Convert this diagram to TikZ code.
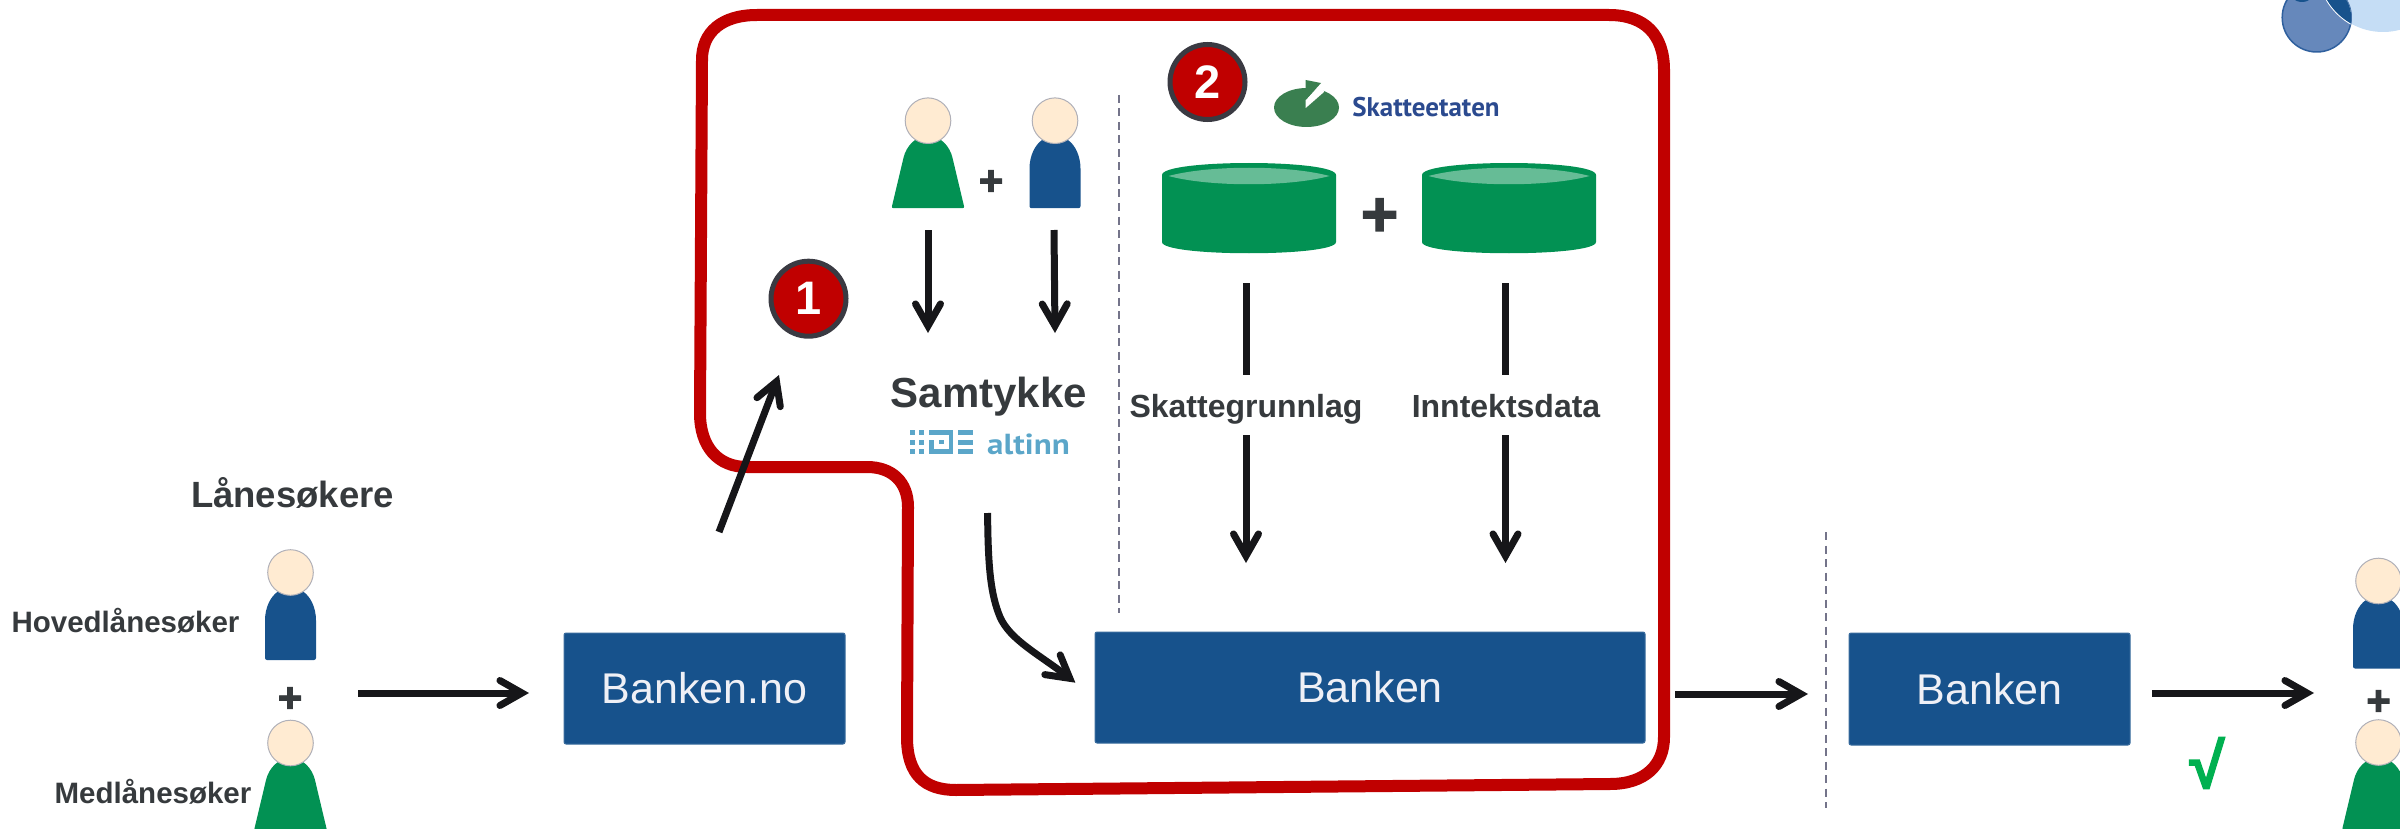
\documentclass[tikz,border=0pt]{standalone}
\usepackage{fontspec}
\setmainfont{Liberation Sans}
\newfontfamily\ptsans{PT Sans}
\newfontfamily\heavy{Liberation Sans}[BoldFeatures={FakeBold=2.2}]
\usetikzlibrary{arrows.meta}
\definecolor{redc}{HTML}{C00000}
\definecolor{bluec}{HTML}{17528C}
\definecolor{greenc}{HTML}{029153}
\definecolor{lightgreen}{HTML}{66BC96}
\definecolor{inkc}{HTML}{161619}
\definecolor{textc}{HTML}{363A3D}
\definecolor{headc}{HTML}{FFEBD2}
\definecolor{headline}{HTML}{B0B0B8}
\definecolor{dashc}{HTML}{74748A}
\definecolor{ringc}{HTML}{3A3A42}
\definecolor{logoc}{HTML}{3A7F50}
\definecolor{logotext}{HTML}{2B4A8F}
\definecolor{altc}{HTML}{5BA6C9}
\definecolor{boxtext}{HTML}{EFF0F6}
\definecolor{checkc}{HTML}{00B050}
\definecolor{paleblue}{HTML}{C5DDF5}
\definecolor{midblue}{HTML}{6688BB}
\definecolor{midline}{HTML}{2F609E}
\newcommand{\fsz}[1]{\fontsize{\fpeval{#1*0.5}pt}{\fpeval{#1*0.6}pt}\selectfont}
\tikzset{
  x=0.5pt,y=-0.5pt,
  arrowline/.style={draw=inkc,line width=3.5pt,-{Straight Barb[length=11pt,width=12.5pt,line cap=round,line join=miter]}},
  plainline/.style={draw=inkc,line width=3.5pt},
  sep/.style={draw=dashc,line width=1pt,dash pattern=on 4pt off 2.75pt},
  bankbox/.style={fill=bluec,draw=bluec!85!white,line width=0.5pt,rounded corners=1pt,inner sep=0pt,text=boxtext,font=\fsz{43}},
  lbl/.style={anchor=base,inner sep=0pt,text=textc,font=\bfseries\fsz{#1}},
  plusmark/.style={anchor=base,inner sep=0pt,text=textc,font=\heavy\bfseries\fsz{#1}},
  badge/.style={circle,fill=redc,draw=ringc,line width=2.5pt,minimum size=37.5pt,inner sep=0pt,text=white,font=\bfseries\fsz{47}},
  bluep/.pic={
    \fill[bluec,rounded corners=1pt] (-25.5,87.5) -- (-25.5,50) -- (-25.5,50) .. controls (-25.5,35) and (-20,24) .. (-11,18) -- (11,18) .. controls (20,24) and (25.5,35) .. (25.5,50) -- (25.5,87.5) -- cycle;
    \draw[headline,fill=headc,line width=0.5pt] (0,0) circle[radius=22.8];
  },
  greenp/.pic={
    \fill[greenc,rounded corners=1pt] (-36.5,87.5) -- (-24,35) .. controls (-21,27) and (-17,22) .. (-11,18) -- (11,18) .. controls (17,22) and (21,27) .. (24,35) -- (36.5,87.5) -- cycle;
    \draw[headline,fill=headc,line width=0.5pt] (0,0) circle[radius=22.8];
  },
  cyl/.pic={
    \fill[greenc] (-87,12) .. controls (-87,-4) and (87,-4) .. (87,12) -- (87,79) .. controls (87,94) and (-87,94) .. (-87,79) -- cycle;
    \fill[lightgreen] (-80.5,13) .. controls (-40,2) and (40,2) .. (80.5,13) .. controls (40,24) and (-40,24) .. (-80.5,13) -- cycle;
  }
}
\begin{document}
\begin{tikzpicture}
\useasboundingbox (0,0) rectangle (2400,829);
\clip (0,0) rectangle (2400,829);
% top-right circles
\fill[paleblue] (2383,-33) circle[radius=65];
\draw[midline,fill=midblue,line width=0.75pt] (2316.7,17.5) circle[radius=34.5];
\begin{scope}
  \clip (2316.7,17.5) circle[radius=34.5];
  \fill[white] (2383,-33) circle[radius=66];
  \fill[bluec] (2383,-33) circle[radius=65];
  \fill[bluec] (2302,-12) circle[radius=14];
\end{scope}
% red outline
\draw[redc,line width=6pt] (757,15) -- (1609,15) .. controls (1645,15) and (1664,35) .. (1664,70) -- (1664,737) .. controls (1664,765) and (1645,784) .. (1610,784) -- (956,790) .. controls (925,790) and (907,775) .. (907,737) -- (908,507) .. controls (908,482) and (892,467) .. (867,467) -- (747,467) .. controls (718,467) and (700,447) .. (700,413) -- (702,60) .. controls (702,32) and (722,15) .. (757,15) -- cycle;
% separators
\coordinate (s1a) at (1118.7,95); \coordinate (s1b) at (1118.7,613);
\coordinate (s2a) at (1825.7,532); \coordinate (s2b) at (1825.7,808);
\draw[sep] (s1a) -- (s1b);
\draw[sep] (s2a) -- (s2b);
% boxes
\node[bankbox,minimum width=140.5pt,minimum height=55.5pt] (bno) at (704.5,688.5) {\raisebox{-0.7pt}{Banken.no}};
\node[bankbox,minimum width=275pt,minimum height=55.5pt] (bmid) at (1370,687.5) {\raisebox{-0.7pt}{Banken}};
\node[bankbox,minimum width=140.5pt,minimum height=56pt] (bright) at (1989.5,689) {\raisebox{-0.7pt}{Banken}};
% people
\pic at (290.5,572.5) {bluep};
\pic at (290.5,743) {greenp};
\pic at (928,120.7) {greenp};
\pic at (1055,120.7) {bluep};
\pic at (2378.5,581) {bluep};
\pic at (2378.5,742.5) {greenp};
% labels
\node[lbl=36.5] (tl) at (292.5,507.5) {Lånesøkere};
\node[lbl=29.5] (th) at (125.5,632) {Hovedlånesøker};
\node[lbl=29.5] (tm) at (153,803) {Medlånesøker};
\node[lbl=42] (ts) at (989,407) {Samtykke};
\node[lbl=32] (tg) at (1246,417) {Skattegrunnlag};
\node[lbl=32] (ti) at (1506,417) {Inntektsdata};
% plus signs
\node[plusmark=42] (p1) at (290,712) {+};
\node[plusmark=42] (p2) at (991,195) {+};
\node[plusmark=64] (p3) at (1379.5,236) {+};
\node[plusmark=42] (p4) at (2378.5,715) {+};
% badges
\node[badge] (b1) at (808.5,298.7) {1};
\node[badge] (b2) at (1207.5,82) {2};
% cylinders
\pic at (1249,163) {cyl};
\pic at (1509,163) {cyl};
% Skatteetaten logo
\fill[logoc] (1306.5,107.5) ellipse[x radius=32.5,y radius=19.5];
\fill[white] (1305.7,100) -- (1321,83) -- (1324,92) -- (1305.7,108) -- cycle;
\fill[logoc] (1305.7,80) -- (1321,83) -- (1305.7,100) -- cycle;
\node[anchor=base,inner sep=0pt,text=logotext,font=\ptsans\bfseries\fsz{27}] (sk) at (1426,117) {Skatteetaten};
% altinn logo
\begin{scope}[altc]
\foreach \yy in {430,439.5,449} {
  \fill (910,\yy) rectangle ++(5,5);
  \fill (919,\yy) rectangle ++(5,5);
  \fill (957.5,\yy) rectangle ++(15.5,5);
}
\fill (929,430) rectangle (953,434.5);
\fill (948.5,430) rectangle (953,454);
\fill (929,449) rectangle (953,454);
\fill (929,439.5) rectangle (934,454);
\fill (939,439.5) rectangle (943.5,444);
\end{scope}
\node[anchor=base,inner sep=0pt,text=altc,font=\ptsans\bfseries\fsz{29}] (al) at (1028.5,454) {\scalebox{1.14}[1]{altinn}};
% check mark
\node[anchor=base,inner sep=0pt,text=checkc,font=\heavy\bfseries\fsz{64}] (ck) at (2207,788) {√};
% arrows
\coordinate (a1s) at (358,693); \coordinate (a1e) at (529,693);
\draw[arrowline] (a1s) -- (a1e);
\coordinate (a2s) at (719,532); \coordinate (a2e) at (779,375);
\draw[arrowline] (a2s) -- (a2e);
\coordinate (a3s) at (928,230); \coordinate (a3e) at (928,333);
\draw[arrowline] (a3s) -- (a3e);
\coordinate (a4s) at (1054,230); \coordinate (a4e) at (1055,333);
\draw[arrowline] (a4s) -- (a4e);
\coordinate (a5a) at (1246,283); \coordinate (a5b) at (1246,375);
\coordinate (a5c) at (1246,435); \coordinate (a5d) at (1246,563);
\draw[plainline] (a5a) -- (a5b);
\draw[arrowline] (a5c) -- (a5d);
\coordinate (a6a) at (1505.5,283); \coordinate (a6b) at (1505.5,375);
\coordinate (a6c) at (1505.5,435); \coordinate (a6d) at (1505.5,563);
\draw[plainline] (a6a) -- (a6b);
\draw[arrowline] (a6c) -- (a6d);
\coordinate (a7s) at (987.6,513); \coordinate (a7m) at (1000,617); \coordinate (a7e) at (1075.4,682.7);
\draw[arrowline] (a7s) .. controls (988,570) and (991,595) .. (a7m) .. controls (1010,640) and (1040,655) .. (a7e);
\coordinate (a8s) at (1675,694); \coordinate (a8e) at (1808,694);
\draw[arrowline] (a8s) -- (a8e);
\coordinate (a9s) at (2152,693); \coordinate (a9e) at (2314,693);
\draw[arrowline] (a9s) -- (a9e);
\end{tikzpicture}
\end{document}
